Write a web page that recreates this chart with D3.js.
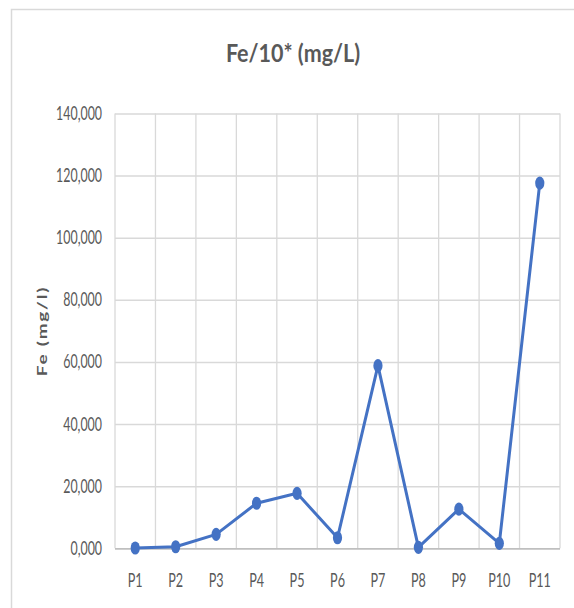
<!DOCTYPE html>
<html>
<head>
<meta charset="utf-8">
<script src="https://cdn.jsdelivr.net/npm/d3@7"></script>
<style>
  html, body { margin: 0; padding: 0; background: #ffffff; }
  svg { display: block; }
  text { font-family: Lato, "Open Sans", sans-serif; fill: #595959; }
</style>
</head>
<body>
<script>
// Iron concentration per sampling point
const categories = ["P1", "P2", "P3", "P4", "P5", "P6", "P7", "P8", "P9", "P10", "P11"];
const feValues = [0.1, 0.5, 4.5, 14.5, 17.7, 3.4, 58.8, 0.3, 12.6, 1.6, 117.6];
const yTicks = [0, 20, 40, 60, 80, 100, 120, 140];
const chartTitle = "Fe/10* (mg/L)";
const yTitle = "Fe (mg/l)";

const W = 574, H = 608;
const plot = { left: 115, right: 560, top: 113.5, bottom: 548.3 };
const lineColor = "#4472C4";

// numbers written with a decimal comma, three decimals
const locale = d3.formatLocale({ decimal: ",", thousands: ".", grouping: [3], currency: ["", ""] });
const fmt = locale.format(".3f");

const svg = d3.select("body").append("svg")
  .attr("width", W).attr("height", H);

// chart frame
svg.append("rect")
  .attr("x", 11.5).attr("y", 9.5)
  .attr("width", W + 20).attr("height", H + 20)
  .attr("fill", "#ffffff")
  .attr("stroke", "#d9d9d9").attr("stroke-width", 1.5);

const x = d3.scaleBand().domain(categories).range([plot.left, plot.right]);
const y = d3.scaleLinear().domain([0, 140]).range([plot.bottom, plot.top]);

// vertical gridlines at category boundaries
const xEdges = categories.map(c => x(c)).concat([plot.right]);
svg.append("g").selectAll("line").data(xEdges).join("line")
  .attr("x1", d => d).attr("x2", d => d)
  .attr("y1", plot.top).attr("y2", plot.bottom)
  .attr("stroke", "#d9d9d9").attr("stroke-width", 1.3);

// y axis with horizontal gridlines
const yAxis = svg.append("g")
  .attr("transform", `translate(${plot.left},0)`)
  .call(d3.axisLeft(y).tickValues(yTicks).tickFormat(fmt)
    .tickSize(-(plot.right - plot.left)).tickPadding(13));
yAxis.select(".domain").remove();
yAxis.selectAll(".tick line").attr("stroke", "#d9d9d9").attr("stroke-width", 1.5);
yAxis.selectAll(".tick text")
  .attr("font-size", 12.4)
  .attr("transform", "scale(1,1.5)")
  .style("fill", "#595959");
yAxis.selectAll(".tick").filter(d => d === 0).select("line")
  .attr("stroke", "#bfbfbf").attr("stroke-width", 1.8);

// x axis labels
const xAxis = svg.append("g")
  .attr("transform", `translate(0,${plot.bottom})`)
  .call(d3.axisBottom(x).tickSize(0).tickPadding(16));
xAxis.select(".domain").remove();
xAxis.selectAll(".tick text")
  .attr("font-size", 12.6)
  .attr("transform", "scale(1,1.55)")
  .style("fill", "#595959");

// series line and markers
const pts = categories.map((c, i) => ({ c, v: feValues[i] }));
const line = d3.line()
  .x(d => x(d.c) + x.bandwidth() / 2)
  .y(d => y(d.v));
svg.append("path").datum(pts)
  .attr("d", line)
  .attr("fill", "none")
  .attr("stroke", lineColor)
  .attr("stroke-width", 3)
  .attr("stroke-linejoin", "round");
svg.append("g").selectAll("ellipse").data(pts).join("ellipse")
  .attr("cx", d => x(d.c) + x.bandwidth() / 2)
  .attr("cy", d => y(d.v))
  .attr("rx", 4.6).attr("ry", 6.6)
  .attr("fill", lineColor);

// chart title
svg.append("text")
  .attr("transform", "translate(293,62) scale(1,1.15)")
  .attr("text-anchor", "middle")
  .attr("font-size", 21.5)
  .attr("font-weight", "bold")
  .text(chartTitle);

// y axis title
svg.append("text")
  .attr("transform", "translate(47,331) scale(1,1.4) rotate(-90)")
  .attr("text-anchor", "middle")
  .attr("font-size", 13.5)
  .attr("font-weight", "bold")
  .attr("letter-spacing", 1.3)
  .text(yTitle);
</script>
</body>
</html>
